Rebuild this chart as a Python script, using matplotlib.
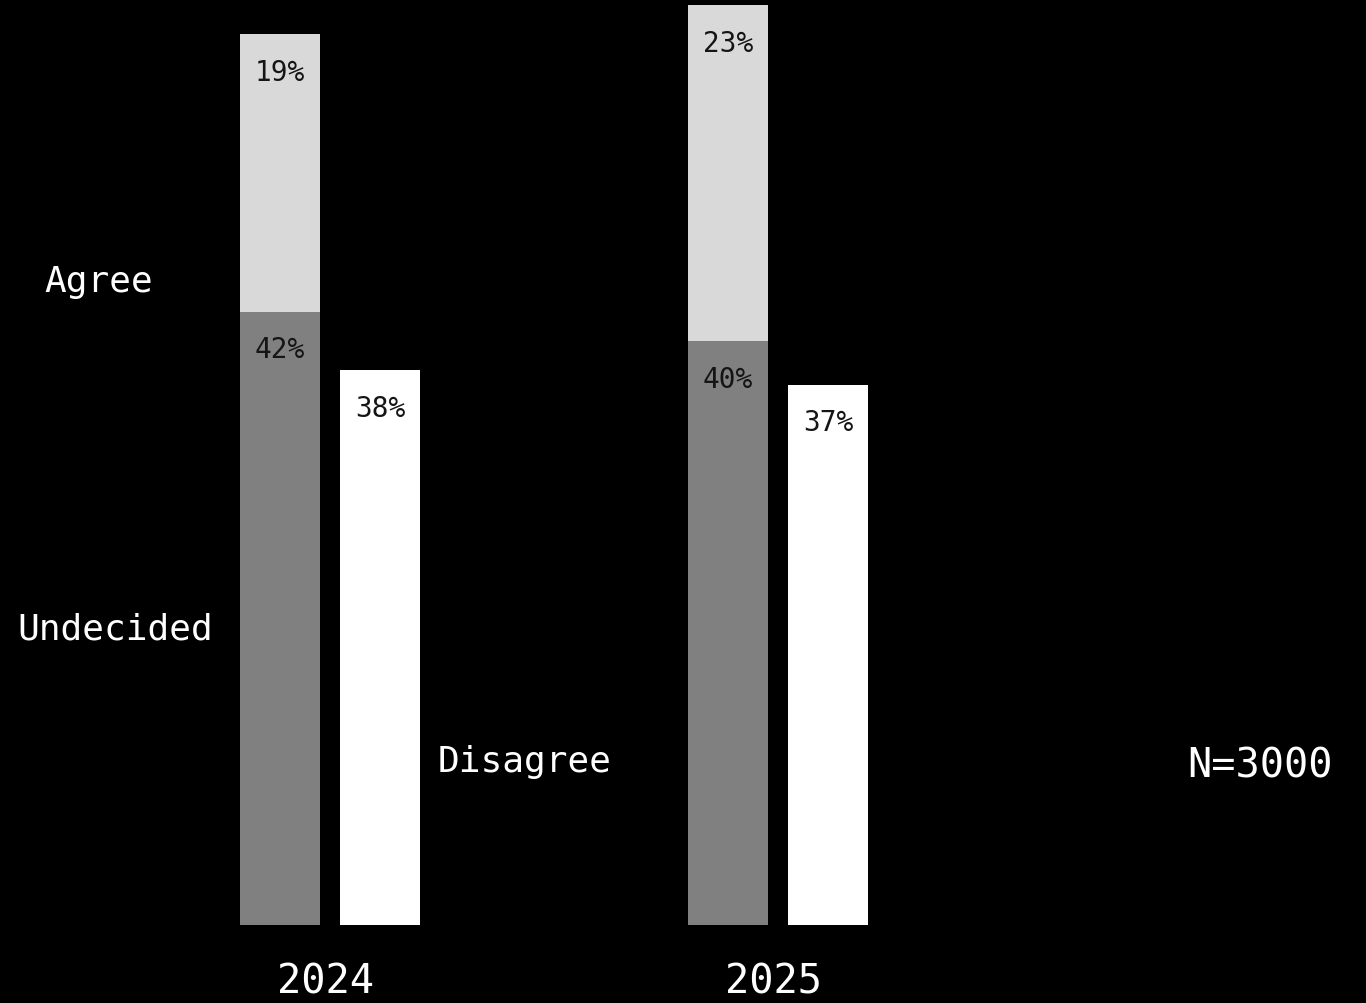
import numpy as np
import matplotlib.pyplot as plt

years = ['2024', '2025']
undecided = [42, 40]
agree = [19, 23]
disagree = [38, 37]
sample_note = 'N=3000'

c_undecided = '#808080'
c_agree = '#d9d9d9'
c_disagree = '#ffffff'

plt.rcParams['font.family'] = 'DejaVu Sans Mono'

fig = plt.figure(figsize=(13.66, 10.04), dpi=100, facecolor='black')
ax = fig.add_axes([0, 78 / 1004, 1, 926 / 1004])
ax.set_facecolor('black')

x = np.arange(len(years))
w = 80 / 448
off = 50 / 448

ax.bar(x - off, undecided, w, color=c_undecided)
ax.bar(x - off, agree, w, bottom=undecided, color=c_agree)
ax.bar(x + off, disagree, w, color=c_disagree)

def pct(xpos, top, val):
    ax.annotate(f'{val}%', (xpos, top), xytext=(0, -27), textcoords='offset points',
                ha='center', va='center', fontsize=20, color='#151515')

for i in range(len(years)):
    pct(x[i] - off, undecided[i] + agree[i], agree[i])
    pct(x[i] - off, undecided[i], undecided[i])
    pct(x[i] + off, disagree[i], disagree[i])
    ax.text(x[i] - 0.01, -3.85, years[i], ha='center', va='center',
            fontsize=29, color='white', clip_on=False)

ax.text(-0.516, 44.1, 'Agree', ha='center', va='center', fontsize=26, color='white')
ax.text(-0.48, 20.3, 'Undecided', ha='center', va='center', fontsize=26, color='white')
ax.text(0.435, 11.2, 'Disagree', ha='center', va='center', fontsize=26, color='white')
ax.text(2.076, 10.9, sample_note, ha='center', va='center', fontsize=29, color='white')

ax.set_xlim(-330 / 448, (1366 - 330) / 448)
ax.set_ylim(0, 926 / 14.6)
ax.axis('off')

fig.savefig('out.png', dpi=100, facecolor='black')
